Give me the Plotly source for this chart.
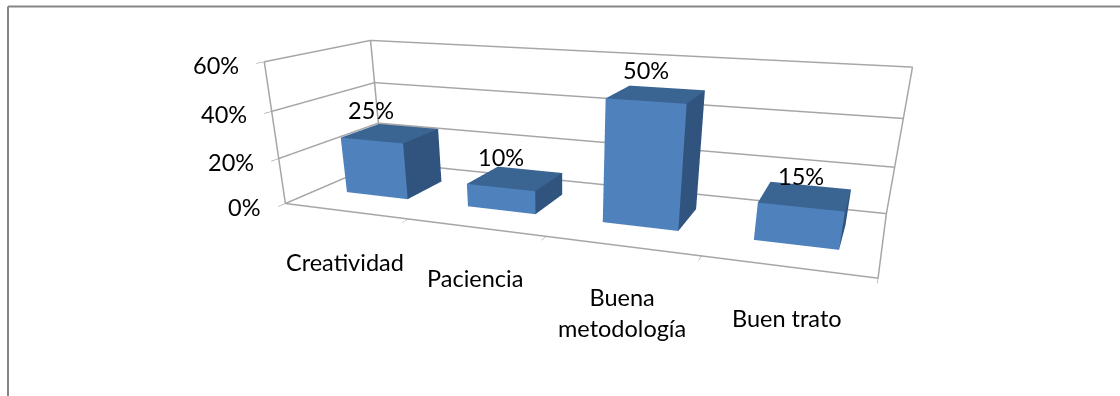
import plotly.graph_objects as go

# Chart data
categories = ["Creatividad", "Paciencia", "Buena<br>metodología", "Buen trato"]
values = [0.25, 0.10, 0.50, 0.15]
z_ticks = [0, 0.2, 0.4, 0.6]

# Bar footprint inside each category slot and inside the floor depth
BAR_WIDTH, DEPTH_FRONT, DEPTH_BACK = 0.5149, 0.3161, 0.7154

# Page size: the tall canvas gives the narrow viewing angle of the 3-D view
PAGE_W, PAGE_H = 1120, 700
VISIBLE_TOP = 6.5

FRONT, TOP, SIDE = "#4F81BD", "#3A6491", "#30547D"
GRID = "#A6A6A6"
FRAME = "#868686"
FONT = dict(family="Lato", size=23.5, color="#000000")

fig = go.Figure()

# One solid box per category; heights come straight from the values
for i, v in enumerate(values):
    xa, xb = i + 0.5 - BAR_WIDTH / 2, i + 0.5 + BAR_WIDTH / 2
    fig.add_trace(go.Mesh3d(
        x=[xa, xb, xb, xa, xa, xb, xb, xa],
        y=[DEPTH_FRONT, DEPTH_FRONT, DEPTH_BACK, DEPTH_BACK] * 2,
        z=[0, 0, 0, 0, v, v, v, v],
        i=[0, 0, 4, 4, 0, 0, 1, 1, 2, 2, 3, 3],
        j=[1, 2, 5, 6, 1, 5, 2, 6, 3, 7, 0, 4],
        k=[2, 3, 6, 7, 5, 4, 6, 5, 7, 6, 4, 7],
        facecolor=[FRONT, FRONT, TOP, TOP, FRONT, FRONT, SIDE, SIDE, FRONT, FRONT, FRONT, FRONT],
        flatshading=True,
        name=categories[i],
        lighting=dict(ambient=1, diffuse=0, specular=0, fresnel=0, roughness=1),
        hoverinfo="skip",
    ))

# Outline of the floor and the wall edges
fig.add_trace(go.Scatter3d(
    x=[0, 4, 4, 0, 0, None, 0, 0, None, 4, 4, None, 0, 0],
    y=[0, 0, 1, 1, 0, None, 0, 0, None, 1, 1, None, 1, 1],
    z=[0, 0, 0, 0, 0, None, 0, 0.6, None, 0, 0.6, None, 0, 0.6],
    mode="lines",
    line=dict(color=GRID, width=3),
    hoverinfo="skip",
    showlegend=False,
))

# Axis labels, data labels and category names as text anchored in the scene
notes = []
for z in z_ticks:
    notes.append(dict(x=0, y=0, z=z, text=f"{round(z * 100)}%", showarrow=False,
                      xanchor="right", yanchor="middle", xshift=-23, yshift=-3, font=FONT))
for i, v in enumerate(values):
    notes.append(dict(x=i + 0.5, y=DEPTH_FRONT, z=v, text=f"{round(v * 100)}%", showarrow=False,
                      xanchor="center", yanchor="middle", yshift=31, font=FONT))
    notes.append(dict(x=i + 0.5, y=0, z=0, text=categories[i], showarrow=False,
                      xanchor="center", yanchor="top", yshift=-35, font=FONT))

axis_base = dict(showbackground=False, showticklabels=False, title="", showspikes=False,
                 zeroline=False, showline=False)

fig.update_layout(
    width=PAGE_W, height=PAGE_H,
    margin=dict(l=0, r=0, t=0, b=0),
    paper_bgcolor="white",
    showlegend=False,
    scene=dict(
        domain=dict(x=[0, 1], y=[0, 1]),
        dragmode="orbit",
        aspectmode="manual",
        aspectratio=dict(x=2.5321, y=0.8137, z=0.6096),
        camera=dict(
            eye=dict(x=1.217, y=-3.4173, z=0.801),
            center=dict(x=0.1346, y=-0.6026, z=-0.7004),
            up=dict(x=0.0028, y=-0.0077, z=1),
        ),
        xaxis=dict(range=[0, 4], tickvals=[0, 1, 2, 3, 4], showgrid=False, ticks="outside",
                   ticklen=6, tickcolor=FRAME, **axis_base),
        yaxis=dict(range=[0, 1], tickvals=[], showgrid=False, **axis_base),
        zaxis=dict(range=[0, 0.6], tickvals=z_ticks, showgrid=True, gridcolor=GRID, gridwidth=3,
                   ticks="outside", ticklen=6, tickcolor=FRAME, **axis_base),
        annotations=notes,
    ),
    # Chart frame along the top and left
    shapes=[
        dict(type="line", xref="paper", yref="paper", x0=8 / PAGE_W, x1=1,
             y0=1 - VISIBLE_TOP / PAGE_H, y1=1 - VISIBLE_TOP / PAGE_H, line=dict(color=FRAME, width=2)),
        dict(type="line", xref="paper", yref="paper", x0=8 / PAGE_W, x1=8 / PAGE_W,
             y0=0, y1=1 - VISIBLE_TOP / PAGE_H, line=dict(color=FRAME, width=2)),
    ],
)

fig.write_html("out.html", config=dict(displayModeBar=False),
               post_script="document.documentElement.style.overflow='hidden';")
